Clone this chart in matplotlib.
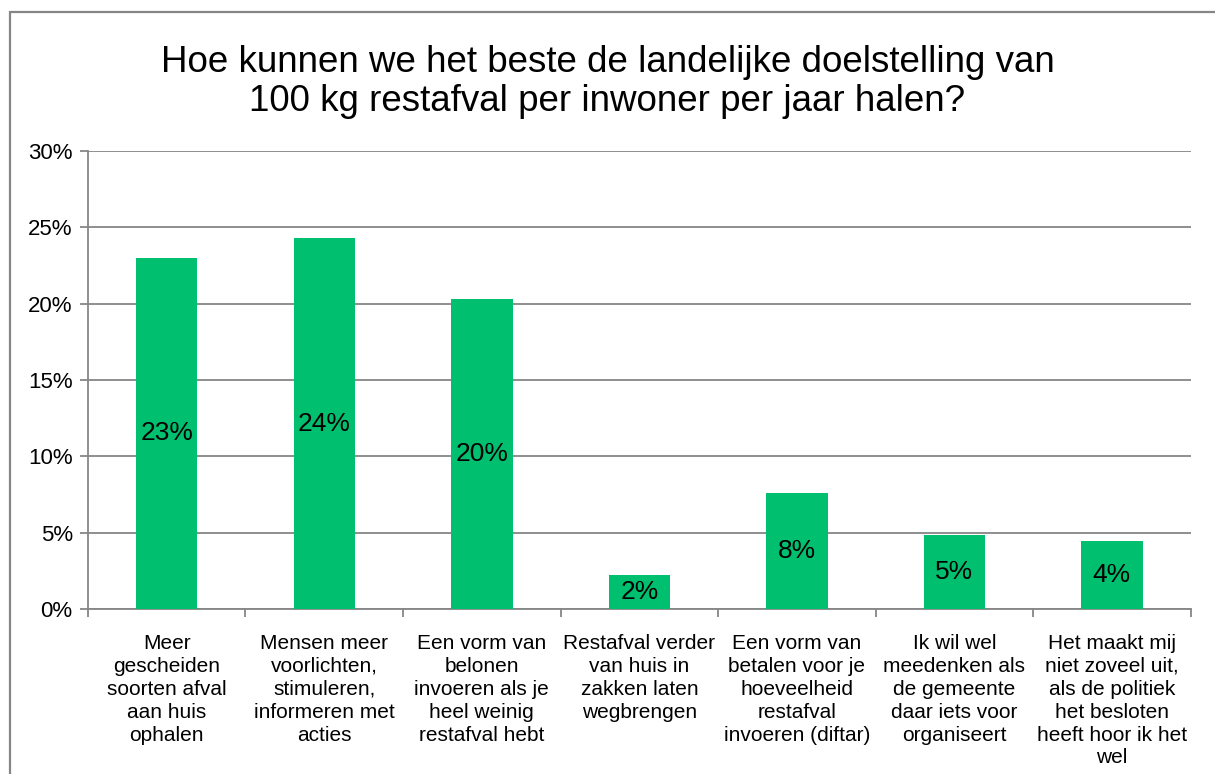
import matplotlib
matplotlib.use("Agg")
import matplotlib.pyplot as plt
from matplotlib.patches import Rectangle

plt.rcParams['font.family'] = ['Liberation Sans', 'DejaVu Sans']

categories = [
    "Meer\ngescheiden\nsoorten afval\naan huis\nophalen",
    "Mensen meer\nvoorlichten,\nstimuleren,\ninformeren met\nacties",
    "Een vorm van\nbelonen\ninvoeren als je\nheel weinig\nrestafval hebt",
    "Restafval verder\nvan huis in\nzakken laten\nwegbrengen",
    "Een vorm van\nbetalen voor je\nhoeveelheid\nrestafval\ninvoeren (diftar)",
    "Ik wil wel\nmeedenken als\nde gemeente\ndaar iets voor\norganiseert",
    "Het maakt mij\nniet zoveel uit,\nals de politiek\nhet besloten\nheeft hoor ik het\nwel",
]
values = [23.0, 24.3, 20.3, 2.2, 7.6, 4.85, 4.45]
labels = ["23%", "24%", "20%", "2%", "8%", "5%", "4%"]
yticks = [0, 5, 10, 15, 20, 25, 30]

grey = '#868686'
green = '#00BF6F'

fig = plt.figure(figsize=(12.15, 7.74), dpi=100)
# chart border: only top and left edges are visible in the crop
fig.patches.append(Rectangle((0.0082, -0.1), 1.1, 1.0845, transform=fig.transFigure,
                             fill=False, edgecolor=grey, linewidth=1.6))
ax = fig.add_axes([0.0724, 0.2132, 0.9076, 0.5917])

x = list(range(len(values)))
ax.bar(x, values, width=0.39, color=green, zorder=3)
for xi, v, lab in zip(x, values, labels):
    ax.text(xi, v / 2, lab, ha='center', va='center', fontsize=19, zorder=4)

ax.set_xlim(-0.5, len(values) - 0.5)
ax.set_ylim(0, 30)
ax.set_yticks(yticks)
ax.set_yticklabels([f"{t}%" for t in yticks], fontsize=16)
ax.yaxis.grid(True, color=grey, linewidth=1.3, zorder=0)
ax.set_xticks([i - 0.5 for i in range(len(values) + 1)], minor=False)
ax.set_xticklabels([])
ax.set_xticks(x, minor=True)
ax.set_xticklabels(categories, minor=True, fontsize=15, linespacing=1.26)
ax.tick_params(axis='x', which='minor', length=0, pad=18)
ax.tick_params(axis='x', which='major', length=6, color=grey, width=1.3)
ax.tick_params(axis='y', length=6, color=grey, width=1.3, pad=5)

for s in ['top', 'right']:
    ax.spines[s].set_visible(False)
for s in ['left', 'bottom']:
    ax.spines[s].set_color(grey)
    ax.spines[s].set_linewidth(1.3)

fig.text(0.5, 0.894, "Hoe kunnen we het beste de landelijke doelstelling van\n100 kg restafval per inwoner per jaar halen?",
         ha='center', va='center', fontsize=26.5, linespacing=1.12)

fig.savefig("out.png", dpi=100)
